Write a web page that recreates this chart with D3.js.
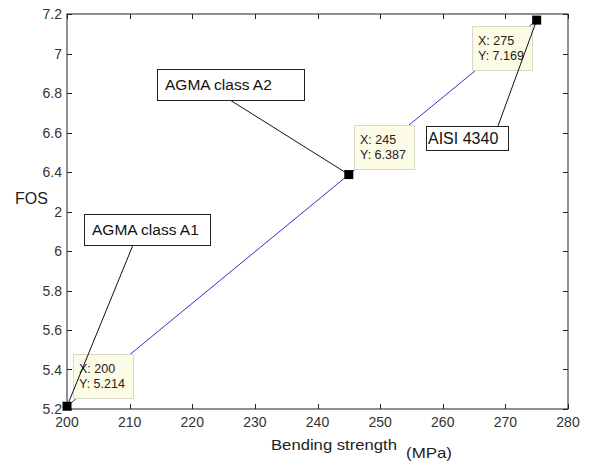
<head></head>
<body style="margin:0;background:#fff">
    <div id="chart"></div>
    <script src="https://cdn.jsdelivr.net/npm/d3@7/dist/d3.min.js"></script>
    <script>
        var width = 589,
            height = 463;

        // data
        var strength = [200, 245, 275];
        var fos = [5.214, 6.387, 7.169];
        var labels = ['AGMA class A1', 'AGMA class A2', 'AISI 4340'];
        var xTicks = [200, 210, 220, 230, 240, 250, 260, 270, 280];
        var yTicks = [5.2, 5.4, 5.6, 5.8, 6, 6.2, 6.4, 6.6, 6.8, 7, 7.2];

        // where the annotation text boxes sit (pixels) and where their arrow leaves the box
        var noteBox = [
            {x: 84, y: 214, w: 126, h: 31, tx: 133, ty: 245},
            {x: 157, y: 69, w: 147, h: 31, tx: 230, ty: 100},
            {x: 426, y: 126, w: 82, h: 24, tx: 498, ty: 126}
        ];
        // datatip box offsets from the marker
        var tipOff = [
            {dx: 6, dy: -52},
            {dx: 5, dy: -50},
            {dx: -65, dy: 6}
        ];

        var pts = strength.map(function(d, i){ return {x: d, y: fos[i]}; });

        var x = d3.scaleLinear().domain([200, 280]).range([67, 568]);
        var y = d3.scaleLinear().domain([5.2, 7.2]).range([409, 14]);

        var svg = d3.select('#chart')
            .append('svg')
            .attr('width', width)
            .attr('height', height)
            .style('font-family', "'Liberation Sans', Arial, sans-serif");

        // frame
        svg.append('rect')
            .attr('x', x.range()[0]).attr('y', y.range()[1])
            .attr('width', x.range()[1] - x.range()[0])
            .attr('height', y.range()[0] - y.range()[1])
            .attr('fill', 'none').attr('stroke', '#222').attr('stroke-width', 1);

        var tk = 5;
        svg.selectAll('.xt').data(xTicks).enter().append('path')
            .attr('d', function(d){ var p = Math.round(x(d)) + 0.5;
                return 'M' + p + ' 409 v-' + tk + ' M' + p + ' 14 v' + tk; })
            .attr('stroke', '#222');
        svg.selectAll('.yt').data(yTicks).enter().append('path')
            .attr('d', function(d){ var p = Math.round(y(d)) + 0.5;
                return 'M67 ' + p + ' h' + tk + ' M568 ' + p + ' h-' + tk; })
            .attr('stroke', '#222');

        svg.selectAll('.xl').data(xTicks).enter().append('text')
            .attr('x', function(d){ return x(d); })
            .attr('y', 427)
            .attr('text-anchor', 'middle')
            .attr('font-size', 14)
            .attr('fill', '#333')
            .text(function(d){ return d; });
        svg.selectAll('.yl').data(yTicks).enter().append('text')
            .attr('x', 62)
            .attr('y', function(d){ return y(d) + 5; })
            .attr('text-anchor', 'end')
            .attr('font-size', 14)
            .attr('fill', '#333')
            .text(function(d){ return d3.format('')(d); });

        // y label drawn with a white background, hiding part of the 6.2 label like the original
        svg.append('rect').attr('x', 13).attr('y', 188).attr('width', 41).attr('height', 32).attr('fill', '#fff');
        svg.append('text').attr('x', 15).attr('y', 204).attr('font-size', 16).attr('fill', '#222').text('FOS');

        svg.append('text').attr('x', 271).attr('y', 450).attr('font-size', 15)
            .attr('textLength', 126).attr('lengthAdjust', 'spacingAndGlyphs')
            .attr('fill', '#222').text('Bending strength');
        svg.append('text').attr('x', 406).attr('y', 458).attr('font-size', 15)
            .attr('textLength', 46).attr('lengthAdjust', 'spacingAndGlyphs')
            .attr('fill', '#222').text('(MPa)');

        // the series
        svg.append('path')
            .datum(pts)
            .attr('d', d3.line().x(function(d){ return x(d.x); }).y(function(d){ return y(d.y); }))
            .attr('fill', 'none')
            .attr('stroke', '#3030d0')
            .attr('stroke-width', 1);

        // datatips
        var tips = svg.selectAll('.tip').data(pts).enter().append('g')
            .attr('transform', function(d, i){
                return 'translate(' + Math.round(x(d.x) + tipOff[i].dx) + ',' + Math.round(y(d.y) + tipOff[i].dy) + ')'; });
        tips.append('rect')
            .attr('x', 0.5).attr('y', 0.5).attr('width', 60).attr('height', 44)
            .attr('fill', '#fbfbe6').attr('stroke', '#d8d8c8');
        tips.append('text').attr('x', 6).attr('y', 19).attr('font-size', 12.5).attr('fill', '#222')
            .text(function(d){ return 'X: ' + d.x; });
        tips.append('text').attr('x', 6).attr('y', 34).attr('font-size', 12.5).attr('fill', '#222')
            .text(function(d){ return 'Y: ' + d.y; });

        // annotation arrows and boxes
        svg.selectAll('.al').data(pts).enter().append('line')
            .attr('x1', function(d, i){ return noteBox[i].tx; })
            .attr('y1', function(d, i){ return noteBox[i].ty; })
            .attr('x2', function(d){ return x(d.x); })
            .attr('y2', function(d){ return y(d.y); })
            .attr('stroke', '#111').attr('stroke-width', 1);
        var notes = svg.selectAll('.nb').data(labels).enter().append('g')
            .attr('transform', function(d, i){ return 'translate(' + noteBox[i].x + ',' + noteBox[i].y + ')'; });
        notes.append('rect')
            .attr('x', 0.5).attr('y', 0.5)
            .attr('width', function(d, i){ return noteBox[i].w; })
            .attr('height', function(d, i){ return noteBox[i].h; })
            .attr('fill', '#fff').attr('stroke', '#222');
        notes.append('text')
            .attr('x', function(d, i){ return i == 2 ? 2 : 8; })
            .attr('y', function(d, i){ return i == 2 ? 18 : 21; })
            .attr('font-size', function(d, i){ return i == 2 ? 16 : 15.5; })
            .attr('fill', '#111')
            .text(function(d){ return d; });

        // markers
        svg.selectAll('.mk').data(pts).enter().append('rect')
            .attr('x', function(d){ return x(d.x) - 4.5; })
            .attr('y', function(d){ return y(d.y) - 4.5; })
            .attr('width', 9).attr('height', 9)
            .attr('fill', '#000');
    </script>
</body>
